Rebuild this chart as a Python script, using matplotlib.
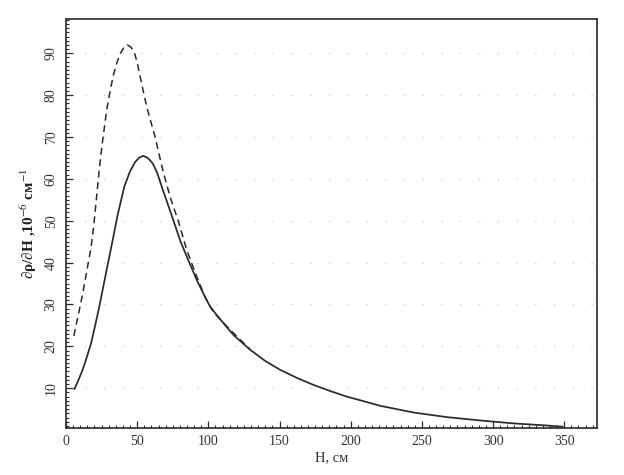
import matplotlib
matplotlib.use("Agg")
import matplotlib.pyplot as plt
from matplotlib.ticker import MultipleLocator

# Data
solid_x = [5.9, 8.8, 11.7, 14.6, 17.6, 20.5, 23.4, 28.1, 32.8, 36.3, 41.0, 45.0, 48.5,
           51.5, 54.3, 57.5, 60.9, 64.0, 68.0, 73.1, 77.3, 80.5, 86.0, 91.8, 96.5,
           101.2, 107.0, 112.9, 118.0, 122.3, 129.3, 140.0, 150.4, 162.0, 173.8, 185.0,
           197.2, 208.0, 220.7, 244.1, 267.5, 290.9, 314.3, 337.8, 349.0]
solid_y = [9.8, 12.0, 14.4, 17.4, 20.7, 25.0, 29.5, 37.5, 45.4, 51.4, 58.2, 61.8, 64.0,
           65.1, 65.5, 65.0, 63.7, 61.5, 57.4, 52.4, 48.2, 45.0, 40.5, 35.9, 32.6,
           29.5, 27.0, 24.6, 22.6, 21.3, 19.2, 16.5, 14.4, 12.5, 10.8, 9.4,
           8.0, 7.0, 5.8, 4.2, 3.1, 2.3, 1.6, 1.1, 0.8]

dashed_x = [5.5, 8.5, 11.7, 14.5, 17.6, 19.5, 21.3, 23.3, 25.3, 28.6, 31.0, 33.3, 35.6,
            37.9, 40.5, 43.0, 45.5, 47.8, 50.0, 52.0, 56.7, 62.5, 68.4, 73.5, 79.0,
            84.8, 91.8, 98.0, 103.5, 112.9, 122.3, 129.3]
dashed_y = [22.5, 27.3, 32.5, 37.8, 43.6, 48.9, 55.0, 62.0, 68.0, 76.5, 81.0, 84.8, 87.6,
            89.8, 91.3, 92.0, 91.5, 90.4, 87.8, 84.5, 77.2, 70.1, 61.5, 55.3, 49.8,
            43.0, 36.7, 31.5, 28.2, 24.8, 21.6, 19.3]

x_ticks = [0, 50, 100, 150, 200, 250, 300, 350]
y_ticks = [10, 20, 30, 40, 50, 60, 70, 80, 90]

plt.rcParams['font.family'] = ['Liberation Serif', 'DejaVu Serif']
plt.rcParams['mathtext.fontset'] = 'stix'

fig = plt.figure(figsize=(6.24, 4.75), dpi=100)
ax = fig.add_axes([66/624, 47/475, (597-66)/624, (428-18.5)/475])

ink = '#2a2a2a'

# faint dotted grid rows
for yv in y_ticks:
    ax.axhline(yv, color='#c8c8c8', lw=0.9, linestyle=(0, (1, 14)), zorder=0)

ax.plot(solid_x, solid_y, color=ink, lw=1.25, solid_joinstyle='round',
        solid_capstyle='round')
ax.plot(dashed_x, dashed_y, color=ink, lw=1.1, linestyle=(0, (4.5, 3)),
        dash_joinstyle='round')

ax.set_xlim(0, 373)
ax.set_ylim(0.5, 98.3)

ax.set_xticks(x_ticks)
ax.set_yticks(y_ticks)
ax.xaxis.set_minor_locator(MultipleLocator(5))
ax.yaxis.set_minor_locator(MultipleLocator(1))
ax.tick_params(which='major', direction='in', length=5, width=0.9, color=ink,
               labelsize=10, labelcolor='#333333')
ax.tick_params(which='minor', direction='in', length=2.5, width=0.8, color=ink)
ax.tick_params(axis='y', labelrotation=90, pad=6)
ax.tick_params(axis='x', pad=5)
for lab in ax.get_yticklabels():
    lab.set_va('center')

for side in ['top', 'right', 'left', 'bottom']:
    ax.spines[side].set_color(ink)
    ax.spines[side].set_linewidth(1.2)

ax.set_xlabel('H, см', fontsize=10.5, color='#333333', labelpad=2)
ax.set_ylabel(r'∂ρ/∂H ,10$^{-6}$ см$^{-1}$', fontsize=11, color='#222222',
              fontweight='bold', labelpad=4)

fig.savefig('out.png', dpi=100, facecolor='white')
